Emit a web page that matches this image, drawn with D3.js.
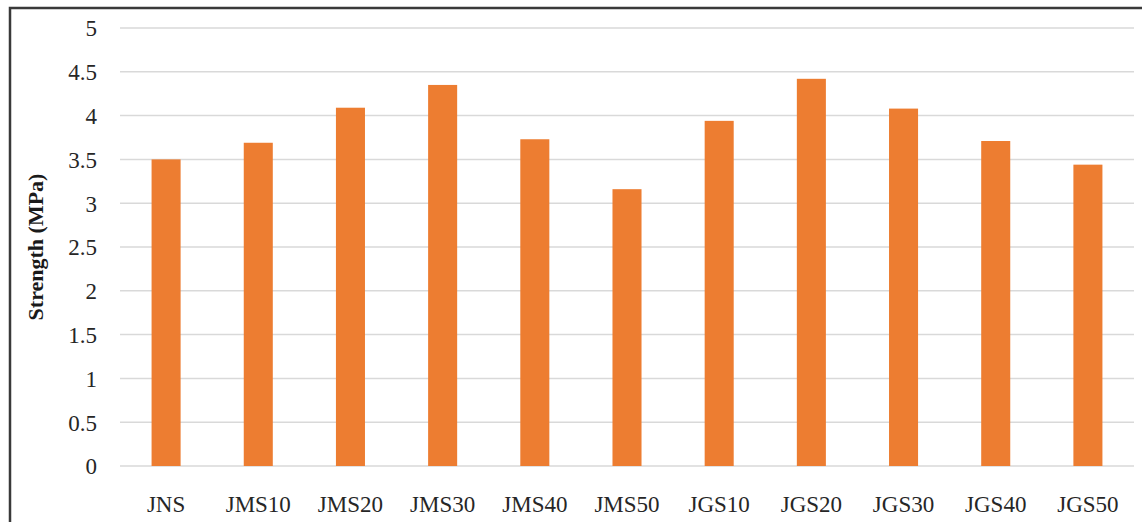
<!DOCTYPE html>
<html>
<head>
<meta charset="utf-8">
<script src="https://cdn.jsdelivr.net/npm/d3@7"></script>
<style>
  html, body { margin: 0; padding: 0; background: #fff; }
  svg { display: block; }
</style>
</head>
<body>
<div id="chart"></div>
<script>
const categories = ["JNS", "JMS10", "JMS20", "JMS30", "JMS40", "JMS50", "JGS10", "JGS20", "JGS30", "JGS40", "JGS50"];
const strength = [3.50, 3.69, 4.09, 4.35, 3.73, 3.16, 3.94, 4.42, 4.08, 3.71, 3.44];
const yTicks = [0, 0.5, 1, 1.5, 2, 2.5, 3, 3.5, 4, 4.5, 5];
const yTitle = "Strength (MPa)";

const W = 1142, H = 522;
const plot = { left: 120, right: 1134, top: 28, bottom: 466 };

const svg = d3.select("#chart").append("svg")
  .attr("width", W).attr("height", H);

svg.append("rect").attr("width", W).attr("height", H).attr("fill", "#fff");

// outer frame
svg.append("rect")
  .attr("x", 10).attr("y", 8)
  .attr("width", W + 20).attr("height", H + 20)
  .attr("fill", "none").attr("stroke", "#3a3a3a").attr("stroke-width", 2.5);

const x = d3.scaleBand().domain(categories).range([plot.left, plot.right]).paddingInner(0.685).paddingOuter(0.3425);
const y = d3.scaleLinear().domain([0, 5]).range([plot.bottom, plot.top]);

// gridlines
svg.append("g").selectAll("line").data(yTicks).join("line")
  .attr("x1", plot.left).attr("x2", plot.right)
  .attr("y1", d => y(d)).attr("y2", d => y(d))
  .attr("stroke", "#d9d9d9").attr("stroke-width", 1.5);

// bars
svg.append("g").selectAll("rect").data(categories).join("rect")
  .attr("x", d => x(d))
  .attr("width", x.bandwidth())
  .attr("y", (d, i) => y(strength[i]))
  .attr("height", (d, i) => y(0) - y(strength[i]))
  .attr("fill", "#ED7D31");

// y axis labels
const yAxis = d3.axisLeft(y).tickValues(yTicks).tickSize(0).tickPadding(0).tickFormat(d3.format("~g"));
const ya = svg.append("g").attr("transform", "translate(97,0)").call(yAxis);
ya.select(".domain").remove();
ya.selectAll("text")
  .attr("font-family", "'Liberation Serif', 'Times New Roman', serif")
  .attr("font-size", 23).attr("fill", "#262626").attr("dy", "0.34em");

// x axis labels
const xAxis = d3.axisBottom(x).tickSize(0).tickPadding(0);
const xa = svg.append("g").attr("transform", `translate(0,${plot.bottom})`).call(xAxis);
xa.select(".domain").remove();
xa.selectAll("text")
  .attr("font-family", "'Liberation Serif', 'Times New Roman', serif")
  .attr("font-size", 23).attr("fill", "#262626")
  .attr("dy", 0).attr("y", 46);

// y title
svg.append("text")
  .attr("transform", `translate(43,${(plot.top + plot.bottom) / 2}) rotate(-90)`)
  .attr("text-anchor", "middle")
  .attr("font-family", "'Liberation Serif', 'Times New Roman', serif")
  .attr("font-weight", "bold")
  .attr("font-size", 22).attr("fill", "#1a1a1a")
  .text(yTitle);
</script>
</body>
</html>
